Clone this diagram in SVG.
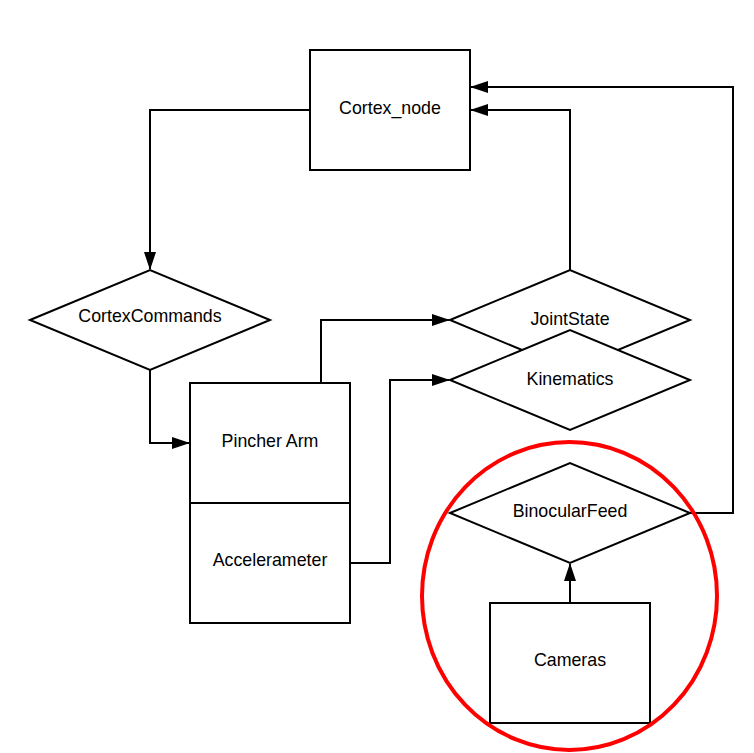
<svg xmlns="http://www.w3.org/2000/svg" width="754" height="753" viewBox="0 0 754 753">
<style>
.n{fill:#fff;stroke:#000;stroke-width:2}
.c{fill:none;stroke:#000;stroke-width:2}
text{font-family:"Liberation Sans",Arial,sans-serif;font-size:17.8px;fill:#000;text-anchor:middle;dominant-baseline:central}
</style>
<defs>
<marker id="ah" markerWidth="18" markerHeight="12" refX="17" refY="6" orient="auto" markerUnits="userSpaceOnUse">
<path d="M0,0 L18,6 L0,12 Z" fill="#000"/>
</marker>
</defs>
<rect width="754" height="753" fill="#fff"/>
<g id="connectors">
<path class="c" d="M310,110 H150 V269" marker-end="url(#ah)"/>
<path class="c" d="M150,370 V443 H189" marker-end="url(#ah)"/>
<path class="c" d="M321,383 V320 H449" marker-end="url(#ah)"/>
<path class="c" d="M350,563 H390 V380 H449" marker-end="url(#ah)"/>
<path class="c" d="M570,270 V110 H471" marker-end="url(#ah)"/>
<path class="c" d="M690,513 H733 V87 H471" marker-end="url(#ah)"/>
<path class="c" d="M570,603 V564" marker-end="url(#ah)"/>
</g>
<g id="cortex_node"><rect class="n" x="310" y="50" width="160" height="120"/><text x="390" y="108">Cortex_node</text></g>
<g id="cortex_commands"><polygon class="n" points="30,320 150,270 270,320 150,370"/><text x="150" y="316">CortexCommands</text></g>
<g id="pincher_arm"><rect class="n" x="190" y="383" width="160" height="120"/><text x="270" y="441">Pincher Arm</text></g>
<g id="accelerameter"><rect class="n" x="190" y="503" width="160" height="120"/><text x="270" y="560">Accelerameter</text></g>
<g id="joint_state"><polygon class="n" points="450,320 570,270 690,320 570,370"/><text x="570" y="319">JointState</text></g>
<g id="kinematics"><polygon class="n" points="450,380 570,330 690,380 570,430"/><text x="570" y="379">Kinematics</text></g>
<g id="binocular_feed"><polygon class="n" points="450,513 570,463 690,513 570,563"/><text x="570" y="511">BinocularFeed</text></g>
<g id="cameras"><rect class="n" x="490" y="603" width="160" height="120"/><text x="570" y="660">Cameras</text></g>
<ellipse cx="569.5" cy="596" rx="147.5" ry="154" fill="none" stroke="#f00" stroke-width="4"/>
</svg>
